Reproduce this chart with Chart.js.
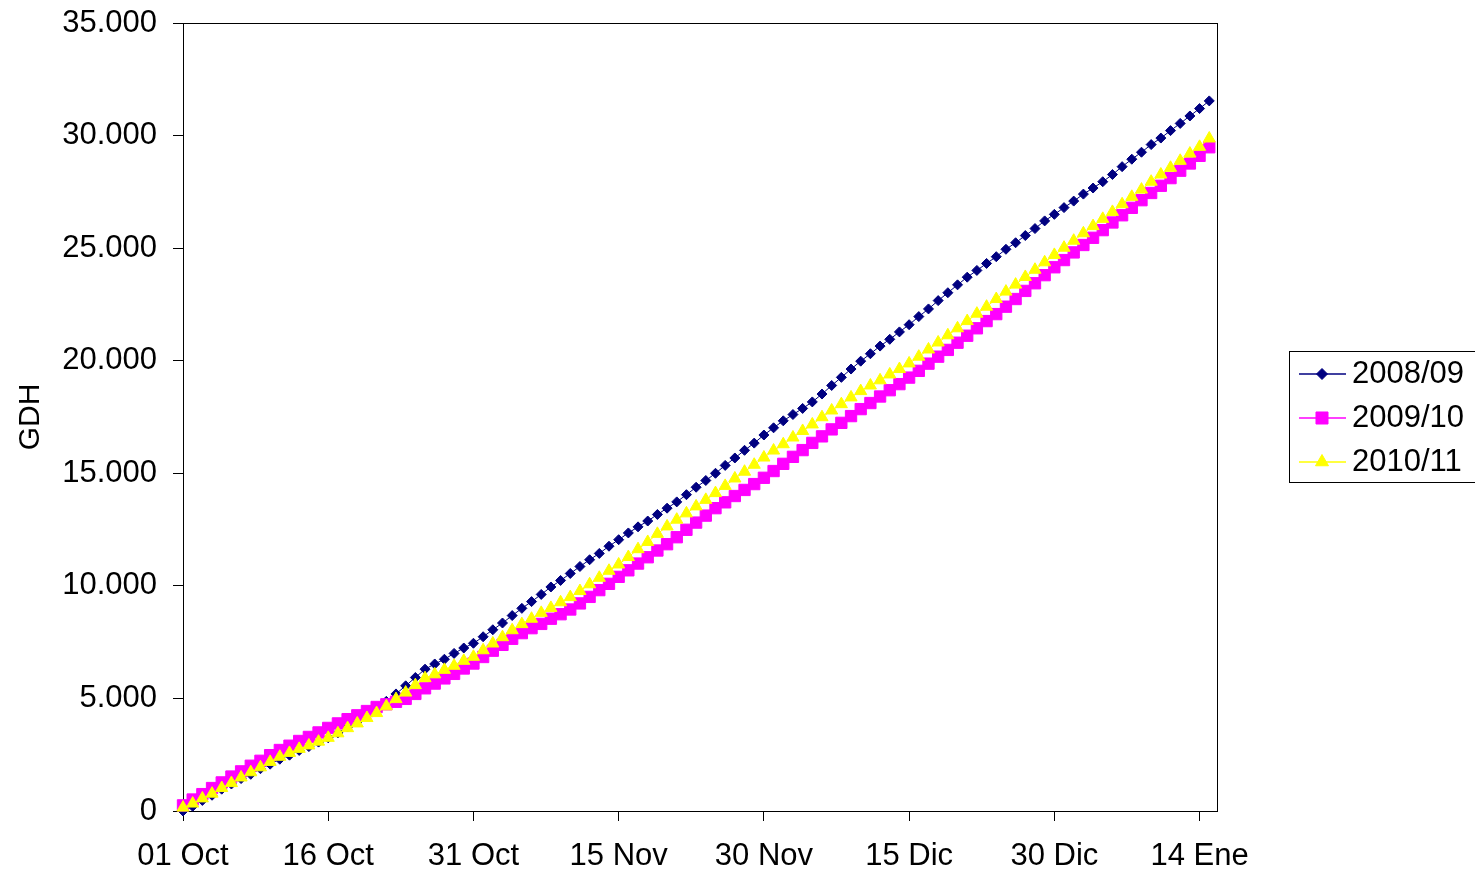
<!DOCTYPE html>
<html>
<head>
<meta charset="utf-8">
<title>GDH</title>
<script src="https://cdn.jsdelivr.net/npm/chart.js@4.4.1/dist/chart.umd.min.js"></script>
<style>
  html, body { margin: 0; padding: 0; background: #fff; }
</style>
</head>
<body>
<canvas id="myChart" width="1475" height="871"></canvas>
<script>
// GDH acumulados desde el 01 Oct, un valor por día
const s2008 = [
  0, 210, 470, 700, 970, 1200,
  1440, 1630, 1880, 2080, 2300,
  2480, 2690, 2860, 3060, 3250,
  3470, 3730, 3970, 4250, 4550,
  4870, 5200, 5560, 5930, 6300,
  6530, 6740, 7000, 7240, 7450,
  7740, 8050, 8350, 8680, 9000,
  9300, 9620, 9950, 10240, 10550,
  10860, 11160, 11440, 11760, 12050,
  12350, 12620, 12880, 13170, 13450,
  13730, 14050, 14380, 14680, 15000,
  15350, 15680, 16020, 16340, 16700,
  17020, 17330, 17610, 17880, 18170,
  18520, 18900, 19260, 19630, 19980,
  20310, 20650, 20950, 21280, 21600,
  21960, 22300, 22670, 23020, 23370,
  23710, 24010, 24320, 24620, 24950,
  25240, 25560, 25870, 26210, 26500,
  26800, 27090, 27400, 27670, 27950,
  28270, 28620, 28950, 29260, 29600,
  29890, 30220, 30540, 30870, 31200,
  31540
];
const s2009 = [
  250, 510, 750, 1020, 1270, 1530,
  1760, 2010, 2230, 2480, 2710,
  2900, 3110, 3290, 3490, 3690,
  3890, 4080, 4250, 4440, 4620,
  4740, 4850, 4980, 5200, 5450,
  5660, 5890, 6090, 6330, 6550,
  6840, 7120, 7380, 7650, 7900,
  8120, 8310, 8540, 8740, 8950,
  9220, 9510, 9810, 10090, 10400,
  10690, 10990, 11270, 11570, 11850,
  12160, 12490, 12810, 13120, 13450,
  13710, 13990, 14260, 14520, 14800,
  15100, 15420, 15730, 16030, 16350,
  16640, 16950, 17240, 17540, 17850,
  18120, 18410, 18690, 18960, 19250,
  19550, 19870, 20180, 20480, 20800,
  21110, 21440, 21760, 22070, 22400,
  22740, 23100, 23440, 23800, 24150,
  24470, 24810, 25140, 25460, 25800,
  26140, 26460, 26790, 27130, 27450,
  27770, 28110, 28440, 28760, 29100,
  29480
];
const s2010 = [
  150, 330, 560, 770, 1020, 1240,
  1490, 1720, 1940, 2180, 2410,
  2580, 2760, 2910, 3080, 3250,
  3450, 3680, 3890, 4130, 4350,
  4650, 4970, 5260, 5590, 5900,
  6070, 6270, 6450, 6670, 6850,
  7140, 7440, 7720, 8030, 8300,
  8540, 8800, 9020, 9270, 9500,
  9770, 10070, 10360, 10670, 10950,
  11280, 11630, 11950, 12310, 12640,
  12940, 13220, 13530, 13820, 14120,
  14440, 14770, 15070, 15380, 15700,
  16010, 16290, 16590, 16880, 17170,
  17490, 17790, 18070, 18370, 18650,
  18900, 19130, 19390, 19630, 19880,
  20180, 20500, 20810, 21130, 21440,
  21760, 22090, 22400, 22740, 23070,
  23380, 23720, 24040, 24370, 24700,
  25020, 25330, 25660, 25980, 26300,
  26610, 26950, 27280, 27600, 27950,
  28270, 28570, 28880, 29200, 29500,
  29870
];
const seriesNames = ['2008/09', '2009/10', '2010/11'];
const tickDays = [0, 15, 30, 45, 60, 75, 90, 105];
const tickLabels = ['01 Oct', '16 Oct', '31 Oct', '15 Nov', '30 Nov', '15 Dic', '30 Dic', '14 Ene'];
const yTicks = [0, 5000, 10000, 15000, 20000, 25000, 30000, 35000];

const fmt = v => String(v).replace(/\B(?=(\d{3})+(?!\d))/g, '.');
const toPoints = arr => arr.map((v, i) => ({ x: i, y: v }));

Chart.defaults.font.family = '"Liberation Sans", Arial, sans-serif';
Chart.defaults.color = '#000';

function marker(ctx, style, r, x, y) {
  ctx.beginPath();
  if (style === 'rectRot') {
    ctx.moveTo(x - r, y); ctx.lineTo(x, y - r); ctx.lineTo(x + r, y); ctx.lineTo(x, y + r);
  } else if (style === 'rect') {
    const h = r * Math.SQRT1_2;
    ctx.rect(x - h, y - h, 2 * h, 2 * h);
  } else {
    ctx.moveTo(x, y - r);
    ctx.lineTo(x + r * 0.866, y + r / 2);
    ctx.lineTo(x - r * 0.866, y + r / 2);
  }
  ctx.closePath();
  ctx.fill();
  ctx.stroke();
}

const frame = {
  id: 'frame',
  beforeDatasetsDraw(chart) {
    const { ctx, chartArea: a } = chart;
    ctx.save();
    ctx.strokeStyle = '#000';
    ctx.lineWidth = 1;
    ctx.strokeRect(Math.round(a.left) + 0.5, Math.round(a.top) + 0.5,
      Math.round(a.right - a.left), Math.round(a.bottom - a.top));
    ctx.restore();
  }
};

const legendBox = {
  id: 'legendBox',
  afterDraw(chart) {
    const ctx = chart.ctx;
    const rows = [374, 418, 462];
    ctx.save();
    ctx.fillStyle = '#fff';
    ctx.strokeStyle = '#000';
    ctx.lineWidth = 1;
    ctx.fillRect(1289.5, 351.5, 200, 131);
    ctx.strokeRect(1289.5, 351.5, 200, 131);
    chart.data.datasets.forEach((ds, i) => {
      const y = rows[i];
      ctx.strokeStyle = ds.borderColor;
      ctx.fillStyle = ds.borderColor;
      ctx.lineWidth = 1.5;
      ctx.beginPath();
      ctx.moveTo(1299, y);
      ctx.lineTo(1346, y);
      ctx.stroke();
      ctx.lineWidth = 1;
      marker(ctx, ds.pointStyle, ds.pointRadius + 0.5, 1322, y);
      ctx.fillStyle = '#000';
      ctx.font = '31px "Liberation Sans", Arial, sans-serif';
      ctx.textBaseline = 'middle';
      ctx.textAlign = 'left';
      ctx.fillText(ds.label, 1352, y);
    });
    ctx.restore();
  }
};

new Chart(document.getElementById('myChart'), {
  type: 'line',
  data: {
    datasets: [
      {
        label: seriesNames[0], data: toPoints(s2008), order: 3,
        borderColor: '#000080', backgroundColor: '#000080',
        pointBackgroundColor: '#000080', pointBorderColor: '#000080',
        pointStyle: 'rectRot', pointRadius: 5, pointBorderWidth: 1,
        borderWidth: 1, clip: false
      },
      {
        label: seriesNames[1], data: toPoints(s2009), order: 2,
        borderColor: '#FF00FF', backgroundColor: '#FF00FF',
        pointBackgroundColor: '#FF00FF', pointBorderColor: '#FF00FF',
        pointStyle: 'rect', pointRadius: 8, pointBorderWidth: 1,
        borderWidth: 1, clip: false
      },
      {
        label: seriesNames[2], data: toPoints(s2010), order: 1,
        borderColor: '#FFFF00', backgroundColor: '#FFFF00',
        pointBackgroundColor: '#FFFF00', pointBorderColor: '#FFFF00',
        pointStyle: 'triangle', pointRadius: 7, pointBorderWidth: 1,
        borderWidth: 1, clip: false
      }
    ]
  },
  options: {
    responsive: false,
    devicePixelRatio: 1,
    animation: false,
    events: [],
    layout: { padding: { top: 23, right: 258, left: 0, bottom: 0 } },
    elements: { line: { tension: 0 } },
    plugins: { legend: { display: false }, tooltip: { enabled: false } },
    scales: {
      x: {
        type: 'linear', min: 0, max: 106.8,
        afterBuildTicks: s => { s.ticks = tickDays.map(v => ({ value: v })); },
        afterFit: s => { s.height = 60; },
        grid: { drawOnChartArea: false, drawTicks: true, tickLength: 10, color: '#000' },
        border: { display: true, color: '#000', width: 1 },
        ticks: {
          padding: 17, color: '#000', font: { size: 31 },
          maxRotation: 0, autoSkip: false,
          callback: (v, i) => tickLabels[i]
        }
      },
      y: {
        min: 0, max: 35000,
        afterBuildTicks: s => { s.ticks = yTicks.map(v => ({ value: v })); },
        afterFit: s => { s.width = 183; s.paddingTop = 0; s.paddingBottom = 0; },
        grid: { drawOnChartArea: false, drawTicks: true, tickLength: 10, color: '#000' },
        border: { display: true, color: '#000', width: 1 },
        ticks: { padding: 16, color: '#000', font: { size: 31 }, callback: v => fmt(v) },
        title: { display: true, text: 'GDH', color: '#000', font: { size: 30 }, padding: { top: 13, bottom: 0 } }
      }
    }
  },
  plugins: [frame, legendBox]
});
</script>
</body>
</html>
